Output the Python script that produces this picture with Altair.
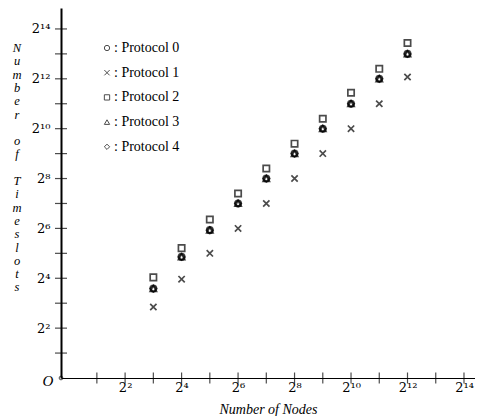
import altair as alt
import pandas as pd

# ---- data ----
nodes = [8, 16, 32, 64, 128, 256, 512, 1024, 2048, 4096]
protocol0 = [12, 29, 61, 128, 256, 512, 1024, 2048, 4096, 8192]
protocol1 = [7.2, 15.6, 32, 64, 128, 256, 512, 1024, 2048, 4300]
protocol2 = [16.4, 37, 82, 169, 338, 675, 1351, 2778, 5405, 11100]
protocol3 = [12, 29, 61, 128, 256, 512, 1024, 2048, 4096, 8192]
protocol4 = [12, 29, 61, 128, 256, 512, 1024, 2048, 4096, 8192]
protocols = ["Protocol 0", "Protocol 1", "Protocol 2", "Protocol 3", "Protocol 4"]
series = [protocol0, protocol1, protocol2, protocol3, protocol4]

tick_exponents = [1, 2, 3, 4, 5, 6, 7, 8, 9, 10, 11, 12, 13, 14]
label_exponents = [2, 4, 6, 8, 10, 12, 14]
label_texts = ["2²", "2⁴", "2⁶", "2⁸", "2¹⁰", "2¹²", "2¹⁴"]
y_title_words = ["Number", "of", "Timeslots"]
x_title = "Number of Nodes"

rows = []
for name, vals in zip(protocols, series):
    for n, v in zip(nodes, vals):
        rows.append({"protocol": name, "nodes": n, "slots": v})
df = pd.DataFrame(rows)
ticks = pd.DataFrame({"lx": tick_exponents, "ly": tick_exponents})
origin = pd.DataFrame({"lx": [-0.27], "ly": [0.0]})

label_expr = "".join(
    f"datum.value == {e} ? '{t}' : " for e, t in zip(label_exponents, label_texts)
) + "''"

FONT = "Liberation Serif"
LFONT = "DejaVu Serif"
XDOM = [-0.27, 14.39]
YDOM = [0, 14.84]
W, H = 414, 370
LH = 13.3

xs = alt.Scale(domain=XDOM, nice=False, zero=False)
ys = alt.Scale(domain=YDOM, nice=False, zero=False)

x_axis = alt.Axis(values=label_exponents, labelExpr=label_expr, ticks=False,
                  grid=False, domainColor="black", domainWidth=1.2,
                  labelFont=LFONT, labelFontSize=13, labelColor="black",
                  labelPadding=3,
                  title=x_title, titleFont=FONT, titleFontStyle="italic",
                  titleFontSize=14, titleFontWeight="normal", titleColor="black",
                  titleBaseline="alphabetic", titleY=35)
y_axis = alt.Axis(values=label_exponents, labelExpr=label_expr, ticks=False,
                  grid=False, domainColor="black", domainWidth=2,
                  labelFont=LFONT, labelFontSize=13, labelColor="black",
                  labelPadding=11, title=None)

X = alt.X("lx:Q", scale=xs, axis=x_axis)
Y = alt.Y("ly:Q", scale=ys, axis=y_axis)

x_path = "M-1,-1L1,1M-1,1L1,-1"

points = alt.Chart(df).transform_calculate(
    lx="log(datum.nodes)/LN2", ly="log(datum.slots)/LN2"
).mark_point(filled=False, strokeWidth=1.7, size=40, color="black").encode(
    x=X, y=Y,
    shape=alt.Shape("protocol:N",
                    scale=alt.Scale(domain=protocols,
                                    range=["circle", x_path, "square", "triangle-up", "diamond"]),
                    legend=alt.Legend(title=None, orient="none", legendX=39, legendY=33,
                                      labelExpr="': ' + datum.label",
                                      labelFont=FONT, labelFontSize=14, labelColor="black",
                                      labelOffset=0, rowPadding=10.7, padding=0,
                                      symbolSize=28, symbolStrokeColor="black",
                                      symbolStrokeWidth=1, symbolFillColor="transparent")),
)

yticks = alt.Chart(ticks).mark_tick(orient="horizontal", size=12, thickness=1.2,
                                    color="black").encode(y=Y, x=alt.value(0))
xticks = alt.Chart(ticks).mark_tick(orient="vertical", size=11, thickness=1.2,
                                    color="black").encode(x=X, y=alt.value(H))
otext = alt.Chart(origin).mark_text(font=FONT, fontStyle="italic", fontSize=15,
                                    dx=-13, dy=3, color="black").encode(
    x=X, y=Y, text=alt.value("O"))
odot = alt.Chart(origin).mark_point(filled=False, size=14, color="black",
                                    strokeWidth=1).encode(x=X, y=Y)

# stacked vertical y-axis title, one letter per line
title_layers = []
line_start = 0
for word in y_title_words:
    title_layers.append(
        alt.Chart(origin).mark_text(font=FONT, fontStyle="italic", fontSize=12.5,
                                    lineHeight=LH, align="center", baseline="top",
                                    color="black").encode(
            x=alt.value(-44), y=alt.value(34 + line_start * LH),
            text=alt.value(list(word)))
    )
    line_start += len(word) + 1

chart = alt.layer(points, yticks, xticks, otext, odot, *title_layers).properties(
    width=W, height=H,
    background="white",
    autosize=alt.AutoSizeParams(type="none"),
    padding={"left": 53, "top": 0, "right": 0, "bottom": 38},
).configure_view(stroke=None)

chart.save("out.html", embed_options={"renderer": "svg", "actions": False})
